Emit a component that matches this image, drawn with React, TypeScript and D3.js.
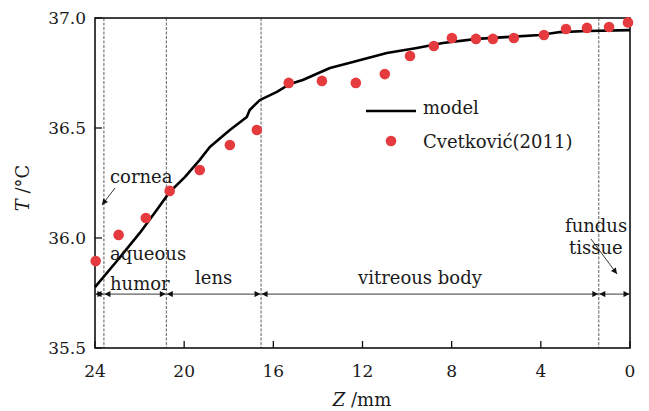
import React from 'react';
import * as d3 from 'd3';

// model curve (Z in mm, T in °C)
const modelZ = [24.0, 22.98, 21.99, 21.23, 20.65, 19.97, 19.3, 18.85, 17.95, 17.19, 17.06, 16.61, 15.84, 15.26, 14.68, 13.46, 12.43, 10.91, 9.56, 8.39, 6.87, 5.39, 4.04, 3.14, 1.93, 0];
const modelT = [35.777, 35.9, 36.023, 36.127, 36.209, 36.277, 36.355, 36.414, 36.491, 36.55, 36.582, 36.627, 36.664, 36.7, 36.718, 36.773, 36.8, 36.841, 36.864, 36.886, 36.905, 36.914, 36.923, 36.936, 36.941, 36.945];

// Cvetkovic (2011) measurements
const expZ = [23.97, 22.94, 21.72, 20.65, 19.3, 17.95, 16.74, 15.31, 13.82, 12.3, 11.0, 9.87, 8.8, 7.99, 6.91, 6.15, 5.21, 3.86, 2.87, 1.93, 0.94, 0.09];
const expT = [35.895, 36.014, 36.091, 36.214, 36.309, 36.423, 36.491, 36.705, 36.714, 36.705, 36.745, 36.827, 36.873, 36.909, 36.905, 36.905, 36.909, 36.923, 36.95, 36.955, 36.959, 36.98];

// tissue boundaries along Z
const boundaries = [24, 23.6, 20.8, 16.55, 1.4, 0];
const dashedAt = [23.6, 20.8, 16.55, 1.4];

const xTicks = [24, 20, 16, 12, 8, 4, 0];
const yTicks = [35.5, 36.0, 36.5, 37.0];

const W = 649;
const H = 411;
const FONT = '"DejaVu Serif", serif';
const RED = '#e53b3f';
const INK = '#1a1a1a';

export default function App() {
  const x = d3.scaleLinear().domain([24, 0]).range([95, 630]);
  const y = d3.scaleLinear().domain([35.5, 37]).range([348, 18]);

  const line = d3.line<number>()
    .x((d, i) => x(modelZ[i]))
    .y((d) => y(d));

  const arrowY = y(35.745);
  const segs = d3.pairs(boundaries);

  return (
    <div style={{ position: 'fixed', left: 0, top: 0 }}>
      <svg width={W} height={H} style={{ background: '#fff', display: 'block' }}>
        <defs>
          <marker id="ah" viewBox="0 0 10 10" refX="10" refY="5" markerWidth="9" markerHeight="6"
            markerUnits="userSpaceOnUse" orient="auto-start-reverse">
            <path d="M0,0 L10,5 L0,10 z" fill="#111" />
          </marker>
        </defs>

        {/* dashed boundary lines */}
        {dashedAt.map((z) => (
          <line key={z} x1={x(z)} x2={x(z)} y1={y(37)} y2={y(35.5)}
            stroke="#333" strokeWidth={0.8} strokeDasharray="3,1.5" />
        ))}

        {/* region arrows */}
        {segs.map(([a, b]) => (
          <line key={a} x1={x(a) + 0.5} x2={x(b) - 0.5} y1={arrowY} y2={arrowY}
            stroke="#222" strokeWidth={0.9} markerStart="url(#ah)" markerEnd="url(#ah)" />
        ))}

        {/* axis frame */}
        <rect x={x(24)} y={y(37)} width={x(0) - x(24)} height={y(35.5) - y(37)}
          fill="none" stroke="#111" strokeWidth={1.6} />

        {/* ticks inward */}
        {xTicks.map((t) => (
          <g key={t}>
            <line x1={x(t)} x2={x(t)} y1={y(35.5)} y2={y(35.5) - 7} stroke="#111" strokeWidth={1.3} />
            <text x={x(t)} y={377} textAnchor="middle" fontFamily={FONT} fontSize={17} fill={INK}>{t}</text>
          </g>
        ))}
        {yTicks.map((t) => (
          <g key={t}>
            <line x1={x(24)} x2={x(24) + 7} y1={y(t)} y2={y(t)} stroke="#111" strokeWidth={1.3} />
            <text x={86} y={y(t) + 6} textAnchor="end" fontFamily={FONT} fontSize={17} fill={INK}>{t.toFixed(1)}</text>
          </g>
        ))}

        {/* axis titles */}
        <text x={362} y={406} textAnchor="middle" fontFamily={FONT} fontSize={18} fill={INK}>
          <tspan fontStyle="italic">Z</tspan> /mm
        </text>
        <text transform="translate(29,188) rotate(-90)" textAnchor="middle" fontFamily={FONT} fontSize={18} fill={INK}>
          <tspan fontStyle="italic">T</tspan> /°C
        </text>

        {/* model curve */}
        <path d={line(modelT) || ''} fill="none" stroke="#000" strokeWidth={2.6} strokeLinejoin="round" />

        {/* measured points */}
        {expZ.map((z, i) => (
          <circle key={i} cx={x(z)} cy={y(expT[i])} r={5.3} fill={RED} />
        ))}

        {/* legend */}
        <line x1={366} x2={416} y1={111} y2={111} stroke="#000" strokeWidth={2.6} />
        <text x={423} y={114} fontFamily={FONT} fontSize={18} fill={INK}>model</text>
        <circle cx={391} cy={141} r={5.3} fill={RED} />
        <text x={423} y={148} fontFamily={FONT} fontSize={18} fill={INK}>Cvetković(2011)</text>

        {/* region labels */}
        <g fontFamily={FONT} fontSize={18} fill={INK}>
          <text x={110} y={183}>cornea</text>
          <text x={110} y={260}>aqueous</text>
          <text x={110} y={290}>humor</text>
          <text x={195} y={284}>lens</text>
          <text x={358} y={284}>vitreous body</text>
          <text x={565} y={232}>fundus</text>
          <text x={569} y={254}>tissue</text>
        </g>
        <line x1={115} y1={188} x2={102} y2={205} stroke="#222" strokeWidth={0.9} markerEnd="url(#ah)" />
        <line x1={591} y1={239} x2={617} y2={274} stroke="#222" strokeWidth={0.9} markerEnd="url(#ah)" />
      </svg>
    </div>
  );
}
